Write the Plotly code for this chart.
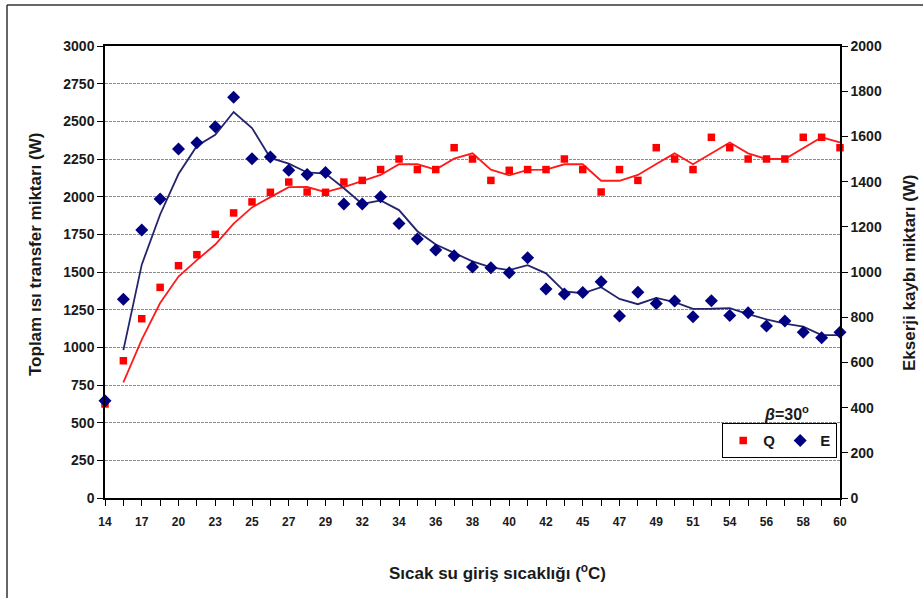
import plotly.graph_objects as go

# ---- data ----
temps = [14, 15, 17, 18, 20, 21, 23, 24, 25, 26, 27, 28, 29, 31, 32, 33, 34, 35, 36, 37,
         38, 39, 40, 41, 42, 44, 45, 46, 47, 48, 49, 50, 51, 53, 54, 55, 56, 57, 58, 59, 60]
q_vals = [624, 911, 1190, 1398, 1542, 1615, 1750, 1892, 1965, 2029, 2097, 2031, 2029, 2097,
          2108, 2180, 2250, 2180, 2180, 2325, 2250, 2108, 2175, 2180, 2180, 2250, 2180, 2031,
          2180, 2108, 2325, 2250, 2180, 2394, 2325, 2250, 2250, 2250, 2394, 2394, 2325]
e_vals = [430, 879, 1186, 1323, 1544, 1572, 1643, 1773, 1501, 1509, 1450, 1431, 1440, 1301,
          1301, 1333, 1215, 1146, 1097, 1072, 1022, 1019, 997, 1063, 925, 903, 909, 957, 805,
          910, 861, 872, 802, 873, 807, 820, 761, 783, 733, 709, 733]

cats = [str(t) for t in temps]
tick_text = [c if i % 2 == 0 else "" for i, c in enumerate(cats)]

# 2-period moving-average trendlines (as in the original spreadsheet chart)
q_ma = [(q_vals[i - 1] + q_vals[i]) / 2 for i in range(1, len(q_vals))]
e_ma = [(e_vals[i - 1] + e_vals[i]) / 2 for i in range(1, len(e_vals))]

RED = "#FF0000"
NAVY = "#000080"
FONT = "Liberation Sans, Arial, sans-serif"
TXT = "#1a1a1a"

fig = go.Figure()
fig.add_trace(go.Scatter(x=cats[1:], y=q_ma, mode="lines", line=dict(color="#FF1A1A", width=1.8),
                         showlegend=False, hoverinfo="skip", cliponaxis=False))
fig.add_trace(go.Scatter(x=cats[1:], y=e_ma, mode="lines", line=dict(color="#24246E", width=1.8),
                         showlegend=False, hoverinfo="skip", yaxis="y2", cliponaxis=False))
fig.add_trace(go.Scatter(x=cats, y=q_vals, mode="markers", name="Q",
                         marker=dict(symbol="square", size=7.5, color=RED), cliponaxis=False))
fig.add_trace(go.Scatter(x=cats, y=e_vals, mode="markers", name="E", yaxis="y2",
                         marker=dict(symbol="diamond", size=10, color=NAVY), cliponaxis=False))

fig.update_layout(
    width=923, height=598,
    margin=dict(l=105, r=83, t=46, b=100),
    paper_bgcolor="white", plot_bgcolor="white",
    font=dict(family=FONT, color=TXT),
    xaxis=dict(type="category", categoryorder="array", categoryarray=cats, range=[0, 40],
               tickmode="array", tickvals=cats, ticktext=tick_text,
               showline=True, linecolor="black", linewidth=1.5, mirror=True,
               ticks="outside", ticklen=6, tickcolor="black", tickwidth=1.2,
               ticklabelstandoff=6, showgrid=False, zeroline=False,
               tickfont=dict(family=FONT, size=12, color=TXT, weight="bold")),
    yaxis=dict(range=[0, 3000], dtick=250, showline=True, linecolor="black", linewidth=1.5,
               ticks="outside", ticklen=6, tickcolor="black", tickwidth=1.2,
               showgrid=True, gridcolor="#8a8a8a", griddash="3px,1px", gridwidth=1,
               zeroline=False, tickfont=dict(family=FONT, size=14, color=TXT, weight="bold")),
    yaxis2=dict(range=[0, 2000], dtick=200, overlaying="y", side="right", showline=True,
                linecolor="black", linewidth=1.5, ticks="outside", ticklen=6, tickcolor="black",
                tickwidth=1.2, showgrid=False, zeroline=False,
                tickfont=dict(family=FONT, size=14, color=TXT, weight="bold")),
    legend=dict(orientation="h", x=(722 - 105) / 735, y=(498 - 423) / 452,
                xanchor="left", yanchor="top",
                bgcolor="white", bordercolor="black", borderwidth=1.2,
                font=dict(family=FONT, size=15, color=TXT, weight="bold"),
                itemwidth=30, tracegroupgap=0),
    showlegend=True,
)

fig.add_annotation(text="Sıcak su giriş sıcaklığı (<sup>o</sup>C)", xref="paper", yref="paper",
                   x=(497 - 105) / 735, y=-(572 - 498) / 452, xanchor="center", yanchor="middle",
                   showarrow=False, font=dict(family=FONT, size=17, color=TXT, weight="bold"))
fig.add_annotation(text="Toplam ısı transfer miktarı (W)", xref="paper", yref="paper",
                   x=(35 - 105) / 735, y=(498 - 255) / 452, xanchor="center", yanchor="middle",
                   textangle=-90, showarrow=False,
                   font=dict(family=FONT, size=17, color=TXT, weight="bold"))
fig.add_annotation(text="Ekserji kaybı miktarı (W)", xref="paper", yref="paper",
                   x=(909 - 105) / 735, y=(498 - 273) / 452, xanchor="center", yanchor="middle",
                   textangle=-90, showarrow=False,
                   font=dict(family=FONT, size=17, color=TXT, weight="bold"))
fig.add_annotation(text="<i>β</i>=30<sup>o</sup>", xref="paper", yref="paper",
                   x=(786 - 105) / 735, y=(498 - 413) / 452, xanchor="center", yanchor="middle",
                   showarrow=False, font=dict(family=FONT, size=16, color=TXT, weight="bold"))

# outer chart frame (left and top edges)
fig.add_shape(type="line", xref="paper", yref="paper", x0=(7 - 105) / 735, x1=(7 - 105) / 735,
              y0=(498 - 5) / 452, y1=(498 - 600) / 452, line=dict(color="#333", width=1.5))
fig.add_shape(type="line", xref="paper", yref="paper", x0=(7 - 105) / 735, x1=(925 - 105) / 735,
              y0=(498 - 5) / 452, y1=(498 - 5) / 452, line=dict(color="#333", width=1.5))

fig.write_html("out.html", config={"displayModeBar": False},
               post_script="document.body.style.margin='0';")
